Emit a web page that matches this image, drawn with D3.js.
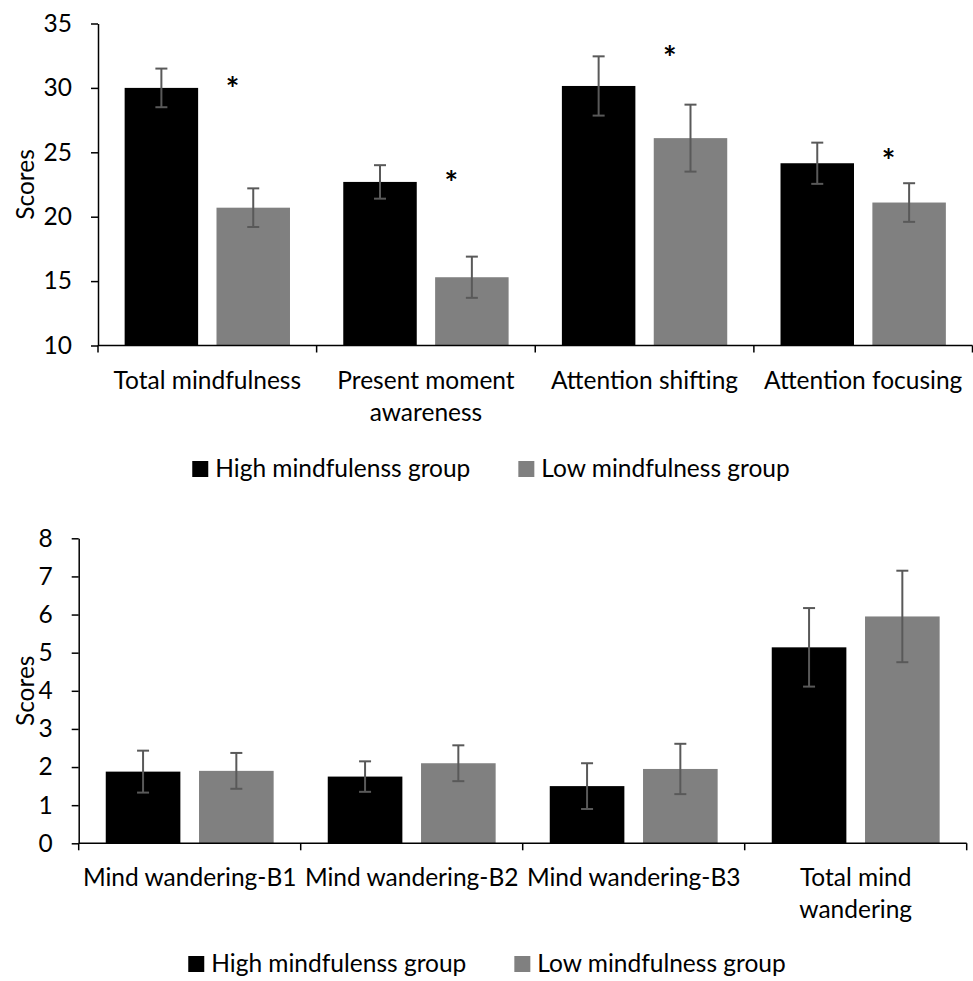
<!DOCTYPE html>
<html>
<head>
<meta charset="utf-8">
<script src="https://cdn.jsdelivr.net/npm/d3@7"></script>
<style>
  html, body { margin: 0; padding: 0; background: #fff; }
  svg { display: block; }
  text { font-family: Lato, "Open Sans", sans-serif; fill: #000; }
</style>
</head>
<body>
<svg id="chart" width="973" height="981"></svg>
<script>
// ---- Mindfulness scores (upper panel) ----
const categoriesTop = ["Total mindfulness", "Present moment awareness", "Attention shifting", "Attention focusing"];
const tickLabelsTop = [["Total mindfulness"], ["Present moment", "awareness"], ["Attention shifting"], ["Attention focusing"]];
const highTop = [30.0, 22.7, 30.15, 24.15];
const highTopErr = [1.5, 1.3, 2.3, 1.6];
const lowTop = [20.7, 15.3, 26.1, 21.1];
const lowTopErr = [1.5, 1.6, 2.6, 1.5];
const starLevelTop = [30.4, 23.1, 32.8, 24.8];   // height of the significance marks
const yTicksTop = [10, 15, 20, 25, 30, 35];

// ---- Mind wandering scores (lower panel) ----
const categoriesBottom = ["Mind wandering-B1", "Mind wandering-B2", "Mind wandering-B3", "Total mind wandering"];
const tickLabelsBottom = [["Mind wandering-B1"], ["Mind wandering-B2"], ["Mind wandering-B3"], ["Total mind", "wandering"]];
const highBottom = [1.88, 1.75, 1.5, 5.14];
const highBottomErr = [0.55, 0.4, 0.6, 1.03];
const lowBottom = [1.9, 2.1, 1.95, 5.95];
const lowBottomErr = [0.47, 0.47, 0.66, 1.2];
const yTicksBottom = [0, 1, 2, 3, 4, 5, 6, 7, 8];

const groups = ["High mindfulenss group", "Low mindfulness group"];
const groupColors = ["#000000", "#808080"];

const FONT = 24.5;
const STAR = 32;
const svg = d3.select("#chart");

function drawPanel(opt) {
  const g = svg.append("g");
  const x = d3.scaleBand().domain(opt.categories).range([opt.left, opt.right]).padding(0);
  const xSub = d3.scaleBand().domain(groups).range([0, x.bandwidth()])
    .paddingInner(0.2).paddingOuter(0.29);
  const y = d3.scaleLinear().domain([opt.yTicks[0], opt.yTicks[opt.yTicks.length - 1]])
    .range([opt.bottom, opt.top]);

  const rows = opt.categories.map((c, i) => ({
    cat: c,
    bars: [
      { grp: groups[0], v: opt.high[i], e: opt.highErr[i], color: groupColors[0] },
      { grp: groups[1], v: opt.low[i], e: opt.lowErr[i], color: groupColors[1] }
    ]
  }));

  // bars
  const cat = g.selectAll("g.cat").data(rows).join("g")
    .attr("class", "cat")
    .attr("transform", d => `translate(${x(d.cat)},0)`);
  cat.selectAll("rect").data(d => d.bars).join("rect")
    .attr("x", d => xSub(d.grp))
    .attr("width", xSub.bandwidth())
    .attr("y", d => y(d.v))
    .attr("height", d => y(opt.yTicks[0]) - y(d.v))
    .attr("fill", d => d.color);

  // error bars
  const eb = cat.selectAll("g.err").data(d => d.bars).join("g")
    .attr("class", "err")
    .attr("transform", d => `translate(${xSub(d.grp) + xSub.bandwidth() / 2},0)`)
    .attr("stroke", "#595959").attr("stroke-width", 2);
  eb.append("line").attr("x1", 0).attr("x2", 0)
    .attr("y1", d => y(d.v + d.e)).attr("y2", d => y(d.v - d.e));
  eb.append("line").attr("x1", -6).attr("x2", 6)
    .attr("y1", d => y(d.v + d.e)).attr("y2", d => y(d.v + d.e));
  eb.append("line").attr("x1", -6).attr("x2", 6)
    .attr("y1", d => y(d.v - d.e)).attr("y2", d => y(d.v - d.e));

  // significance marks
  if (opt.stars) {
    g.selectAll("text.star").data(opt.stars).join("text")
      .attr("class", "star")
      .attr("x", (d, i) => x(opt.categories[i]) + xSub(groups[1]) + xSub.bandwidth() * 0.22)
      .attr("y", d => y(d) + 0.56 * STAR)
      .attr("text-anchor", "middle")
      .style("font-size", STAR + "px")
      .style("font-weight", 700)
      .text("*");
  }

  // y axis
  const yAxis = d3.axisLeft(y).tickValues(opt.yTicks).tickSize(7).tickSizeOuter(0).tickPadding(19);
  const ya = g.append("g").attr("transform", `translate(${opt.left},0)`).call(yAxis);
  ya.selectAll("text").style("font-size", FONT + "px").attr("fill", "#000");
  ya.selectAll("line, path").attr("stroke", "#000").attr("stroke-width", 1.5);

  // x axis: baseline with ticks at category boundaries
  const bounds = opt.categories.map(c => x(c)).concat([opt.right]);
  g.append("line")
    .attr("x1", opt.left).attr("x2", opt.right)
    .attr("y1", opt.bottom).attr("y2", opt.bottom)
    .attr("stroke", "#000").attr("stroke-width", 1.5);
  g.selectAll("line.xtick").data(bounds).join("line")
    .attr("class", "xtick")
    .attr("x1", d => d).attr("x2", d => d)
    .attr("y1", opt.bottom).attr("y2", opt.bottom + 7)
    .attr("stroke", "#000").attr("stroke-width", 1.5);

  // category labels
  const lab = g.selectAll("text.cat").data(opt.categories).join("text")
    .attr("class", "cat")
    .attr("text-anchor", "middle")
    .attr("x", d => x(d) + x.bandwidth() / 2)
    .attr("y", opt.bottom + 43)
    .style("font-size", FONT + "px");
  lab.each(function (d, i) {
    d3.select(this).selectAll("tspan").data(opt.tickLabels[i]).join("tspan")
      .attr("x", x(d) + x.bandwidth() / 2)
      .attr("dy", (t, j) => j === 0 ? 0 : 32)
      .text(t => t);
  });

  // axis title
  g.append("text")
    .attr("transform", `translate(${opt.titleX},${(opt.top + opt.bottom) / 2}) rotate(-90)`)
    .attr("text-anchor", "middle")
    .attr("dy", "0.35em")
    .style("font-size", FONT + "px")
    .text("Scores");

  // legend
  const leg = g.append("g");
  let cx = 0;
  groups.forEach((name, i) => {
    const it = leg.append("g").attr("transform", `translate(${cx},0)`);
    it.append("rect").attr("x", 0).attr("y", -8).attr("width", 16).attr("height", 16)
      .attr("fill", groupColors[i]);
    const t = it.append("text").attr("x", 23).attr("y", 8)
      .style("font-size", FONT + "px").text(name);
    cx += 23 + t.node().getComputedTextLength() + 48;
  });
  const legW = cx - 48;
  leg.attr("transform", `translate(${opt.legendCx - legW / 2},${opt.legendY})`);
}

drawPanel({
  categories: categoriesTop, tickLabels: tickLabelsTop,
  high: highTop, highErr: highTopErr, low: lowTop, lowErr: lowTopErr,
  stars: starLevelTop, yTicks: yTicksTop,
  left: 98, right: 972.5, top: 23.5, bottom: 345.5,
  titleX: 25, legendCx: 491, legendY: 469
});

drawPanel({
  categories: categoriesBottom, tickLabels: tickLabelsBottom,
  high: highBottom, highErr: highBottomErr, low: lowBottom, lowErr: lowBottomErr,
  stars: null, yTicks: yTicksBottom,
  left: 78.7, right: 966.7, top: 538.3, bottom: 843.3,
  titleX: 25, legendCx: 487, legendY: 964
});
</script>
</body>
</html>
